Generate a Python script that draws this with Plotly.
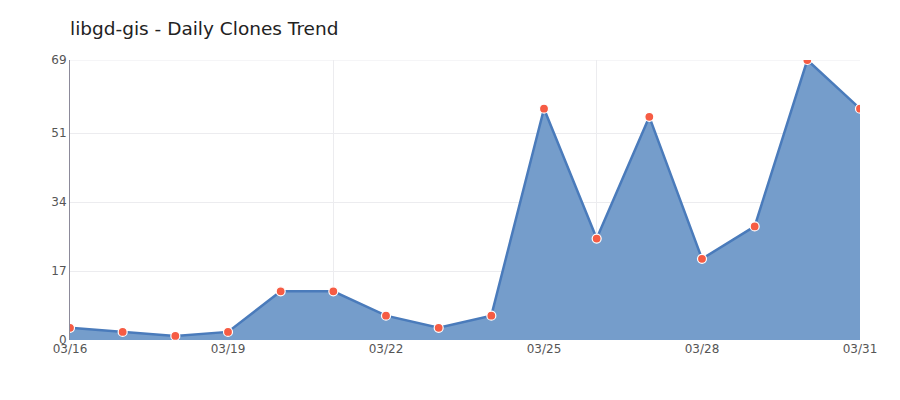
import plotly.graph_objects as go

dates = ["2025-03-16","2025-03-17","2025-03-18","2025-03-19","2025-03-20","2025-03-21",
         "2025-03-22","2025-03-23","2025-03-24","2025-03-25","2025-03-26","2025-03-27",
         "2025-03-28","2025-03-29","2025-03-30","2025-03-31"]
clones = [3, 2, 1, 2, 12, 12, 6, 3, 6, 57, 25, 55, 20, 28, 69, 57]
y_ticks = [0, 17, 34, 51, 69]
x_ticks = ["2025-03-16","2025-03-19","2025-03-22","2025-03-25","2025-03-28","2025-03-31"]
x_tick_labels = ["03/16","03/19","03/22","03/25","03/28","03/31"]
x_grid = ["2025-03-16","2025-03-21","2025-03-26","2025-03-31"]

fig = go.Figure()
fig.add_trace(go.Scatter(
    x=dates, y=clones, mode="lines+markers", fill="tozeroy",
    fillcolor="rgba(117,157,203,1)",
    line=dict(color="#4a7bbb", width=2.5),
    marker=dict(color="#f65c44", size=9, line=dict(color="white", width=1.2)),
    showlegend=False, hoverinfo="x+y",
))
# invisible trace on secondary x axis for vertical gridlines
fig.add_trace(go.Scatter(x=dates, y=clones, xaxis="x2", mode="none", showlegend=False, hoverinfo="skip"))

fig.update_layout(
    width=900, height=400,
    margin=dict(l=62, r=48, t=52, b=68),
    paper_bgcolor="white", plot_bgcolor="white",
    font=dict(family="DejaVu Sans", color="#555"),
    title=dict(text="libgd-gis - Daily Clones Trend", x=62/900, xanchor="left",
               y=1-21/400, yanchor="middle", font=dict(size=18.5, color="#222")),
    xaxis=dict(type="date", range=["2025-03-16","2025-03-31"], tickvals=x_ticks,
               ticktext=x_tick_labels, showgrid=False, zeroline=False, showline=False,
               ticks="", tickfont=dict(size=12, color="#555")),
    xaxis2=dict(type="date", range=["2025-03-16","2025-03-31"], overlaying="x",
                tickvals=x_grid, showticklabels=False, showgrid=True,
                gridcolor="#ececef", gridwidth=1, zeroline=False, ticks="", side="bottom"),
    yaxis=dict(range=[0, 69], tickvals=y_ticks, showgrid=True, gridcolor="#ececef",
               zeroline=False, showline=True, linecolor="#8c8a9a", linewidth=1,
               ticks="", tickfont=dict(size=12, color="#555"), ticklabelstandoff=0),
)
fig.add_shape(type="line", xref="x", yref="y", x0="2025-03-16", x1="2025-03-31", y0=69, y1=69,
              line=dict(color="#ececef", width=1), layer="below")

fig.write_html("out.html")
